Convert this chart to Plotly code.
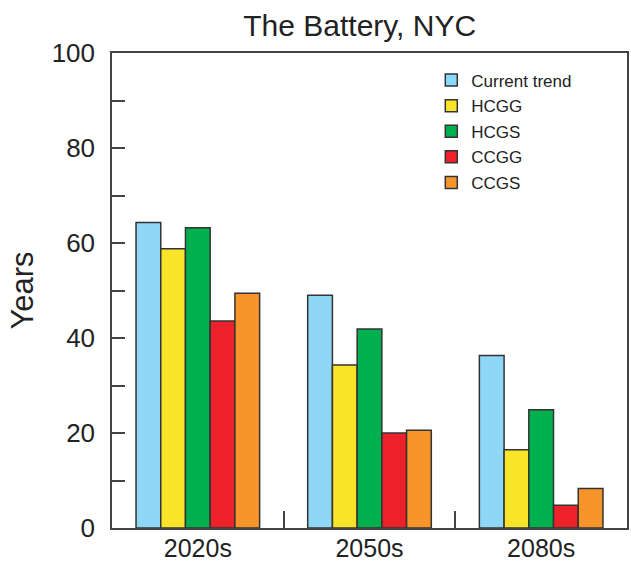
import plotly.graph_objects as go

# Decades on the x axis and years per scenario
decades = ["2020s", "2050s", "2080s"]
current_trend = [64.3, 49.0, 36.3]
hcgg = [58.8, 34.3, 16.5]
hcgs = [63.2, 41.9, 24.9]
ccgg = [43.6, 20.0, 4.8]
ccgs = [49.4, 20.6, 8.3]

y_ticks = [0, 20, 40, 60, 80, 100]

series = [
    ("Current trend", current_trend, "#8fd7f6"),
    ("HCGG", hcgg, "#f9e42a"),
    ("HCGS", hcgs, "#00b04f"),
    ("CCGG", ccgg, "#ed2129"),
    ("CCGS", ccgs, "#f7942a"),
]

fig = go.Figure()
for i, (name, vals, color) in enumerate(series):
    fig.add_trace(go.Bar(
        x=decades, y=vals, name=name, legendgroup=f"g{i}",
        marker=dict(color=color, line=dict(color="#333333", width=1.5)),
    ))

axis_color = "#444444"
fig.update_layout(
    width=631, height=562,
    margin=dict(l=112, r=4, t=53, b=34, autoexpand=False),
    paper_bgcolor="white", plot_bgcolor="white",
    barmode="group", bargap=0.28, bargroupgap=0,
    font=dict(family="Liberation Sans, Arial, sans-serif", color="#222222"),
    title=dict(text="The Battery, NYC", x=0.57, xanchor="center",
               y=0.955, yanchor="middle", font=dict(size=30)),
    showlegend=True,
    legend=dict(x=0.62, y=0.98, xanchor="left", yanchor="top",
                font=dict(size=17), tracegroupgap=0.5,
                bgcolor="rgba(0,0,0,0)", itemwidth=30),
)
fig.update_xaxes(
    range=[-0.5, 2.5], showline=True, linecolor=axis_color, linewidth=1.5,
    mirror=True, showgrid=False, tickson="boundaries", ticks="inside",
    ticklen=17, tickcolor=axis_color, tickwidth=1.5,
    tickfont=dict(size=25), zeroline=False, automargin=False,
    ticklabelstandoff=-3,
)
fig.update_yaxes(
    range=[0, 100], showline=True, linecolor=axis_color, linewidth=1.5,
    mirror=True, showgrid=False, zeroline=False, automargin=False,
    tickvals=y_ticks, ticks="inside", ticklen=13, tickcolor=axis_color,
    tickwidth=1.5, tickfont=dict(size=26), ticklabelstandoff=10,
    minor=dict(dtick=10, ticks="inside", ticklen=13, tickcolor=axis_color,
               tickwidth=1.5, showgrid=False),
    title=dict(text="Years", font=dict(size=31), standoff=9),
)

fig.write_html("out.html")
